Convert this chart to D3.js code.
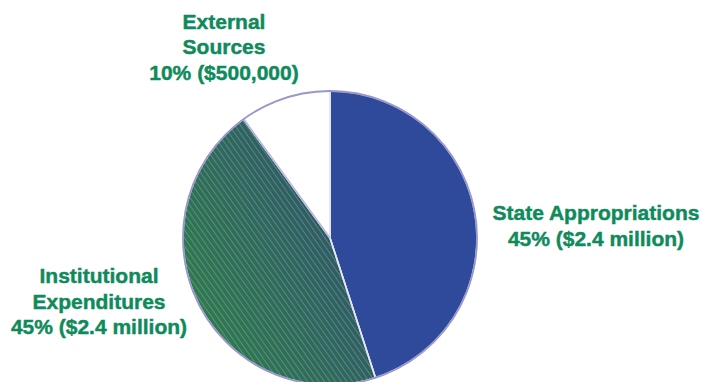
<!DOCTYPE html>
<html>
<head>
<meta charset="utf-8">
<script src="https://cdn.jsdelivr.net/npm/d3@7"></script>
<style>
  html, body { margin: 0; padding: 0; background: #ffffff; overflow: hidden; }
  svg { display: block; }
  .lbl { font-family: "Liberation Sans", Arial, Helvetica, sans-serif; font-weight: bold; font-size: 21px; fill: #0e8a5b; stroke: #0e8a5b; stroke-width: 0.45px; paint-order: stroke; }
</style>
</head>
<body>
<svg id="chart" width="703" height="382"></svg>
<script>
// Funding sources
const categories = ["State Appropriations", "Institutional Expenditures", "External Sources"];
const shares = [45, 45, 10];
const amounts = ["$2.4 million", "$2.4 million", "$500,000"];
// how each label breaks into lines
const labelLines = [
  ["State Appropriations"],
  ["Institutional", "Expenditures"],
  ["External", "Sources"]
];

const W = 703, H = 382;
const cx = 330, cy = 238, R = 147;

const svg = d3.select("#chart");
const defs = svg.append("defs");

// green-to-slate gradient for the hatched slice
const grad = defs.append("linearGradient")
  .attr("id", "instGrad")
  .attr("x1", "0").attr("y1", "0.85")
  .attr("x2", "1").attr("y2", "0.15");
grad.append("stop").attr("offset", "0%").attr("stop-color", "#2f7f4c");
grad.append("stop").attr("offset", "55%").attr("stop-color", "#2f6560");
grad.append("stop").attr("offset", "100%").attr("stop-color", "#2f4a6c");

// fine diagonal white hatch
const pat = defs.append("pattern")
  .attr("id", "hatch")
  .attr("patternUnits", "userSpaceOnUse")
  .attr("width", 4.6).attr("height", 4.6)
  .attr("patternTransform", "rotate(-35)");
pat.append("line")
  .attr("x1", 0).attr("y1", 0).attr("x2", 0).attr("y2", 4.6)
  .attr("stroke", "#ffffff").attr("stroke-width", 0.9).attr("stroke-opacity", 0.45);

const fills = ["#2f4a9b", "url(#instGrad)", "#ffffff"];

const pie = d3.pie().sort(null).value(d => d);
const arcs = pie(shares);
const arc = d3.arc().innerRadius(0).outerRadius(R);

const g = svg.append("g").attr("transform", `translate(${cx},${cy})`);

g.selectAll("path.slice")
  .data(arcs)
  .join("path")
  .attr("class", "slice")
  .attr("d", arc)
  .attr("fill", (d, i) => fills[i])
  .attr("stroke", "#e4e4f4")
  .attr("stroke-width", 1.6)
  .attr("stroke-linejoin", "round");

// hatch overlay on the institutional slice
g.append("path")
  .datum(arcs[1])
  .attr("d", arc)
  .attr("fill", "url(#hatch)");

// redraw the separator edges on top of the hatch
g.selectAll("path.edge")
  .data(arcs)
  .join("path")
  .attr("class", "edge")
  .attr("d", d3.arc().innerRadius(0).outerRadius(R).startAngle(d => d.startAngle).endAngle(d => d.startAngle))
  .attr("fill", "none")
  .attr("stroke", (d, i) => i === 2 ? "#b8b8dc" : "#e4e4f4")
  .attr("stroke-width", 1.6);

// outer rim
g.append("circle")
  .attr("r", R)
  .attr("fill", "none")
  .attr("stroke", "#9898cc")
  .attr("stroke-width", 1.8);

// labels
const labelPos = [
  { x: 596, y: 220 },
  { x: 99, y: 283 },
  { x: 224, y: 28.5 }
];
const lineGap = 25.5;

categories.forEach((c, i) => {
  const lines = labelLines[i].concat([`${shares[i]}% (${amounts[i]})`]);
  const t = svg.append("text")
    .attr("class", "lbl")
    .attr("text-anchor", "middle");
  lines.forEach((s, k) => {
    t.append("tspan")
      .attr("x", labelPos[i].x)
      .attr("y", labelPos[i].y + k * lineGap)
      .text(s);
  });
});
</script>
</body>
</html>
